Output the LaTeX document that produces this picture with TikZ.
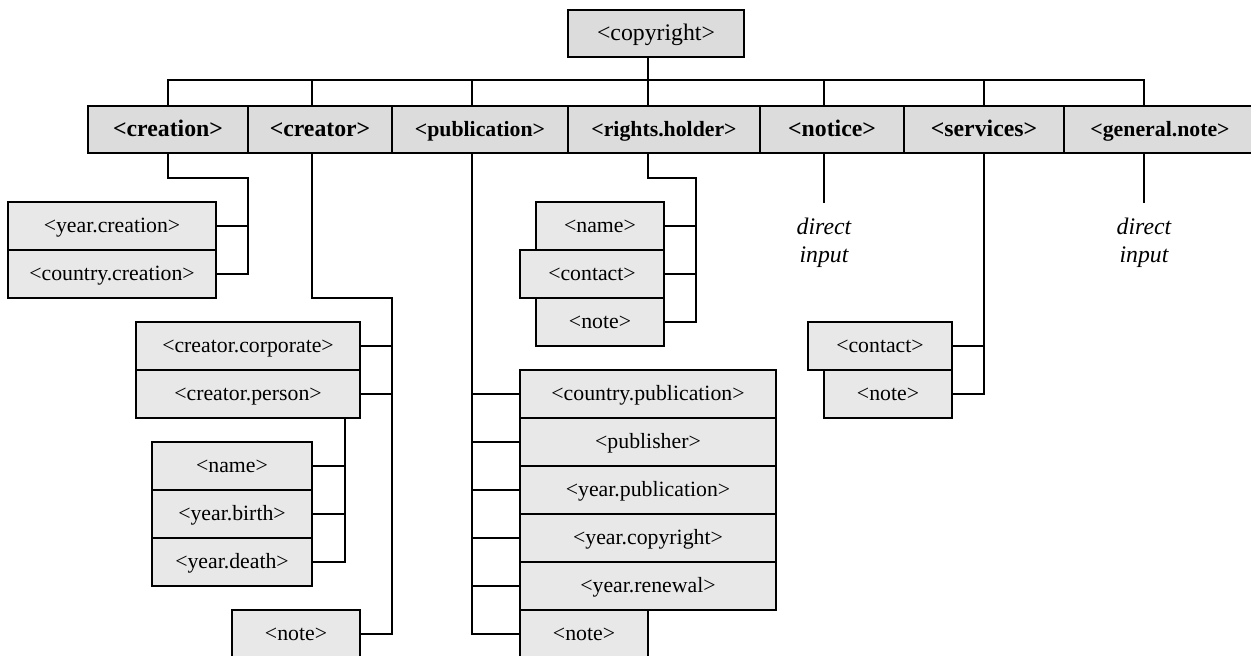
\documentclass[tikz,border=0pt]{standalone}
\usepackage{fontspec}
\setmainfont{Liberation Serif}
\usepackage{tikz}
\definecolor{headgray}{HTML}{DCDCDC}
\definecolor{leafgray}{HTML}{E8E8E8}
\newcommand{\bigtext}{\fontsize{23.76}{28}\selectfont}
\newcommand{\midtext}{\fontsize{21.78}{26}\selectfont}
\tikzstyle{head} = [draw, line width=2pt, fill=headgray, inner sep=0pt, text height=16pt, text depth=3pt, minimum height=47pt, font=\bigtext\bfseries]
\tikzstyle{leaf} = [draw, line width=2pt, fill=leafgray, inner sep=0pt, text height=16pt, text depth=3pt, minimum height=48pt, font=\midtext]
\tikzstyle{link} = [line width=2pt]

\begin{document}
\begin{tikzpicture}[x=1pt,y=-1pt]
			\useasboundingbox (0,0) rectangle (1251,656);
			% root and first level
			\node[head, minimum width=176pt, font=\bigtext] (copyright) at (656,33.5) {<copyright>};
			\node[head, minimum width=160pt] (creation) at (168,129.5) {<creation>};
			\node[head, minimum width=144pt] (creator) at (320,129.5) {<creator>};
			\node[head, minimum width=176pt, font=\midtext\bfseries] (publication) at (480,129.5) {<publication>};
			\node[head, minimum width=192pt, font=\midtext\bfseries] (rightsholder) at (664,129.5) {<rights.holder>};
			\node[head, minimum width=144pt] (notice) at (832,129.5) {<notice>};
			\node[head, minimum width=160pt] (services) at (984,129.5) {<services>};
			\node[head, minimum width=192pt, font=\midtext\bfseries] (generalnote) at (1160,129.5) {<general.note>};
			\draw[link] (creation.north) -- ++(0,-25) -| ([xshift=-16pt]generalnote.north);
			\draw[link] ([xshift=-8pt]copyright.south) -- ([xshift=-16pt]rightsholder.north);
			\draw[link] ([xshift=-8pt]creator.north) -- ++(0,-25);
			\draw[link] ([xshift=-8pt]publication.north) -- ++(0,-25);
			\draw[link] ([xshift=-8pt]notice.north) -- ++(0,-25);
			\draw[link] (services.north) -- ++(0,-25);
			% creation
			\node[leaf, minimum width=208pt] (yearcreation) at (112,226) {<year.creation>};
			\node[leaf, minimum width=208pt] (countrycreation) at (112,274) {<country.creation>};
			\coordinate (creationelbow) at (248,178);
			\draw[link] (creation.south) |- (creationelbow) |- (countrycreation.east);
			\draw[link] (yearcreation.east) -- (yearcreation.east -| creationelbow);
			% creator
			\node[leaf, minimum width=224pt] (corporate) at (248,346) {<creator.corporate>};
			\node[leaf, minimum width=224pt] (person) at (248,394) {<creator.person>};
			\node[leaf, minimum width=160pt] (personname) at (232,466) {<name>};
			\node[leaf, minimum width=160pt] (yearbirth) at (232,514) {<year.birth>};
			\node[leaf, minimum width=160pt] (yeardeath) at (232,562) {<year.death>};
			\node[leaf, minimum width=128pt] (creatornote) at (296,634) {<note>};
			\coordinate (creatorelbow) at (392,298);
			\draw[link] ([xshift=-8pt]creator.south) |- (creatorelbow) |- (creatornote.east);
			\draw[link] (corporate.east) -- (corporate.east -| creatorelbow);
			\draw[link] (person.east) -- (person.east -| creatorelbow);
			\coordinate (personspine) at ([xshift=-16pt]person.south east);
			\draw[link] (personspine) |- (yeardeath.east);
			\draw[link] (personname.east) -- (personname.east -| personspine);
			\draw[link] (yearbirth.east) -- (yearbirth.east -| personspine);
			% publication
			\node[leaf, minimum width=256pt] (countrypub) at (648,394) {<country.publication>};
			\node[leaf, minimum width=256pt] (publisher) at (648,442) {<publisher>};
			\node[leaf, minimum width=256pt] (yearpub) at (648,490) {<year.publication>};
			\node[leaf, minimum width=256pt] (yearcopy) at (648,538) {<year.copyright>};
			\node[leaf, minimum width=256pt] (yearrenewal) at (648,586) {<year.renewal>};
			\node[leaf, minimum width=128pt] (pubnote) at (584,634) {<note>};
			\coordinate (pubspine) at ([xshift=-8pt]publication.south);
			\draw[link] (pubspine) |- (pubnote.west);
			\draw[link] (countrypub.west) -- (countrypub.west -| pubspine);
			\draw[link] (publisher.west) -- (publisher.west -| pubspine);
			\draw[link] (yearpub.west) -- (yearpub.west -| pubspine);
			\draw[link] (yearcopy.west) -- (yearcopy.west -| pubspine);
			\draw[link] (yearrenewal.west) -- (yearrenewal.west -| pubspine);
			% rights holder
			\node[leaf, minimum width=128pt] (holdername) at (600,226) {<name>};
			\node[leaf, minimum width=144pt] (holdercontact) at (592,274) {<contact>};
			\node[leaf, minimum width=128pt] (holdernote) at (600,322) {<note>};
			\coordinate (holderelbow) at (696,178);
			\draw[link] ([xshift=-16pt]rightsholder.south) |- (holderelbow) |- (holdernote.east);
			\draw[link] (holdername.east) -- (holdername.east -| holderelbow);
			\draw[link] (holdercontact.east) -- (holdercontact.east -| holderelbow);
			% notice and general note
			\coordinate (noticeend) at ([xshift=-8pt,yshift=-49pt]notice.south);
			\draw[link] ([xshift=-8pt]notice.south) -- (noticeend);
			\node[font=\bigtext\itshape, align=center, inner sep=0pt] (noticetext) at (824,243) {direct\\input};
			\coordinate (generalend) at ([xshift=-16pt,yshift=-49pt]generalnote.south);
			\draw[link] ([xshift=-16pt]generalnote.south) -- (generalend);
			\node[font=\bigtext\itshape, align=center, inner sep=0pt] (generaltext) at (1144,243) {direct\\input};
			% services
			\node[leaf, minimum width=144pt] (servicecontact) at (880,346) {<contact>};
			\node[leaf, minimum width=128pt] (servicenote) at (888,394) {<note>};
			\draw[link] (services.south) |- (servicenote.east);
			\draw[link] (servicecontact.east) -- (servicecontact.east -| services.south);
		\end{tikzpicture}
\end{document}
